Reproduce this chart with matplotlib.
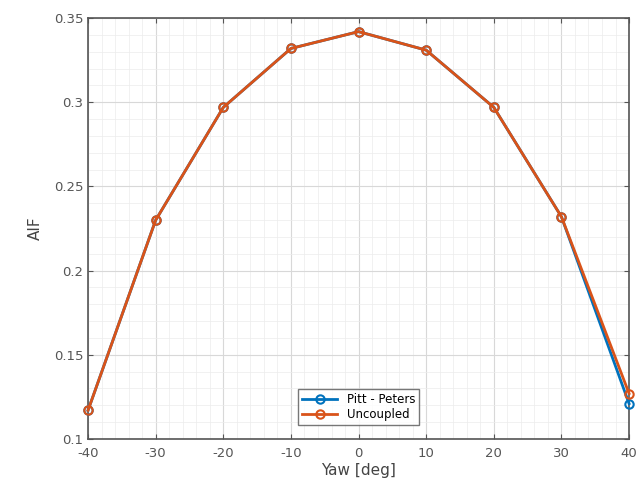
import numpy as np
import matplotlib.pyplot as plt
from matplotlib.ticker import AutoMinorLocator

plt.rcParams['axes.unicode_minus'] = False

yaw = [-40, -30, -20, -10, 0, 10, 20, 30, 40]
aif_pitt_peters = [0.117, 0.230, 0.297, 0.332, 0.342, 0.331, 0.297, 0.232, 0.121]
aif_uncoupled = [0.117, 0.230, 0.297, 0.332, 0.342, 0.331, 0.297, 0.232, 0.127]

fig = plt.figure(figsize=(6.38, 4.91), dpi=100)
ax = fig.add_axes([0.138, 0.106, 0.848, 0.857])

ax.plot(yaw, aif_pitt_peters, '-o', color='#0072BD', lw=2, ms=6,
        mfc='none', mew=1.5, label='Pitt - Peters', clip_on=False, zorder=3)
ax.plot(yaw, aif_uncoupled, '-o', color='#D95319', lw=2, ms=6,
        mfc='none', mew=1.5, label='Uncoupled', clip_on=False, zorder=4)

ax.set_xlim(-40, 40)
ax.set_ylim(0.1, 0.35)
ax.set_xticks(np.arange(-40, 41, 10))
ax.set_yticks([0.1, 0.15, 0.2, 0.25, 0.3, 0.35])
ax.set_yticklabels(['0.1', '0.15', '0.2', '0.25', '0.3', '0.35'])
ax.xaxis.set_minor_locator(AutoMinorLocator(5))
ax.yaxis.set_minor_locator(AutoMinorLocator(5))

ax.grid(which='major', color='#d8d8d8', lw=0.8)
ax.grid(which='minor', color='#ececec', lw=0.5)
ax.set_axisbelow(True)

for s in ax.spines.values():
    s.set_color('#555555')
    s.set_linewidth(1.2)
ax.tick_params(which='both', direction='in', colors='#555555', labelsize=9.5,
               top=True, right=True)
ax.tick_params(which='minor', length=0)
ax.tick_params(axis='x', pad=6)

ax.set_xlabel('Yaw [deg]', fontsize=11, color='#444444', labelpad=2)
ax.set_ylabel('AIF', fontsize=11, color='#444444', labelpad=8)

leg = ax.legend(loc='lower center', bbox_to_anchor=(0.5, 0.02), fontsize=8.5,
                frameon=True, fancybox=False, edgecolor='#555555',
                handlelength=3, borderpad=0.3, labelspacing=0.2)
leg.get_frame().set_linewidth(1)

fig.savefig('out.png', dpi=100)
